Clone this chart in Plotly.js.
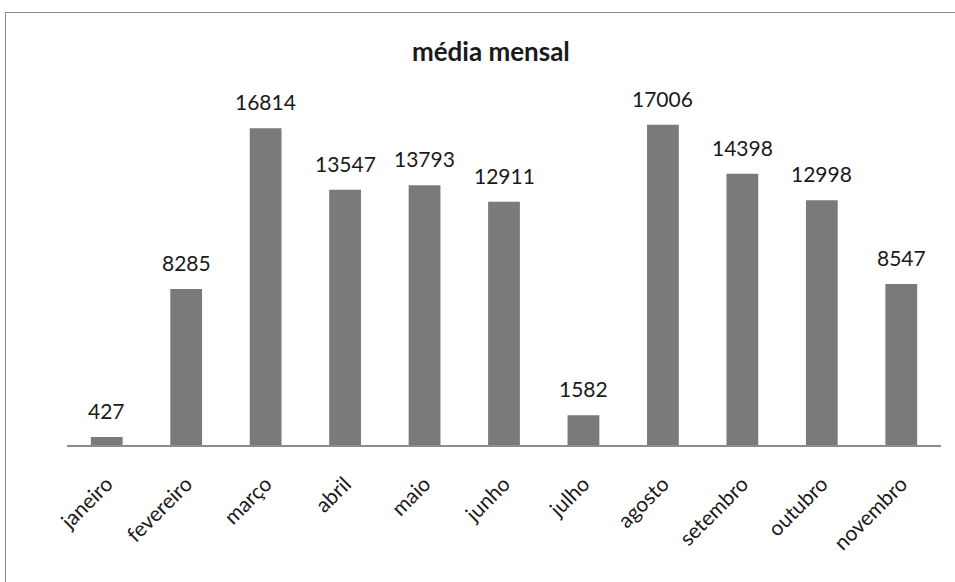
<!DOCTYPE html>
<html>
<head>
<meta charset="utf-8">
<script src="https://cdn.plot.ly/plotly-3.0.1.min.js"></script>
<style>
html,body{margin:0;padding:0;background:#fff;}
#wrap{position:relative;width:955px;height:582px;overflow:hidden;}
#chart{position:absolute;left:0;top:0;width:955px;height:582px;}
#frame{position:absolute;left:5px;top:12px;width:1000px;height:700px;border:1px solid #8a8a8a;pointer-events:none;}
</style>
</head>
<body>
<div id="wrap">
<div id="chart"></div>
<div id="frame"></div>
</div>
<script>
var months = ["janeiro","fevereiro","março","abril","maio","junho","julho","agosto","setembro","outubro","novembro"];
var values = [427, 8285, 16814, 13547, 13793, 12911, 1582, 17006, 14398, 12998, 8547];
var tickLabels = ["janeiro","fevereiro","março","abril","maio","junho","julho","agosto","setembro","outubro","novembro"];
var chartTitle = "média mensal";

var fontFam = "Lato, 'Open Sans', sans-serif";

var trace = {
  type: "bar",
  x: months,
  y: values,
  width: 0.4,
  marker: {color: "#7a7a7a"},
  hoverinfo: "x+y"
};

var annotations = months.map(function(m, i){
  return {
    x: m, y: values[i], xref: "x", yref: "y",
    text: String(values[i]),
    showarrow: false,
    yanchor: "bottom",
    yshift: 12,
    font: {family: fontFam, size: 21, color: "#1a1a1a"}
  };
});

var layout = {
  width: 955, height: 582,
  margin: {l: 67, r: 14, t: 106, b: 137},
  paper_bgcolor: "#ffffff",
  plot_bgcolor: "#ffffff",
  showlegend: false,
  title: {
    text: "<b>" + chartTitle + "</b>",
    x: 0.514, xref: "container", xanchor: "center",
    y: 0.91, yref: "container", yanchor: "middle",
    font: {family: fontFam, size: 26, color: "#1a1a1a"}
  },
  xaxis: {
    tickmode: "array",
    tickvals: months,
    ticktext: tickLabels,
    tickangle: -45,
    ticks: "",
    ticklabelstandoff: 17,
    showline: true,
    linecolor: "#8c8c8c",
    linewidth: 1.5,
    showgrid: false,
    zeroline: false,
    tickfont: {family: fontFam, size: 21, color: "#1a1a1a"}
  },
  yaxis: {
    range: [0, 18000],
    visible: false,
    showgrid: false,
    zeroline: false
  },
  annotations: annotations
};

Plotly.newPlot("chart", [trace], layout, {displayModeBar: false, staticPlot: true});
</script>
</body>
</html>
